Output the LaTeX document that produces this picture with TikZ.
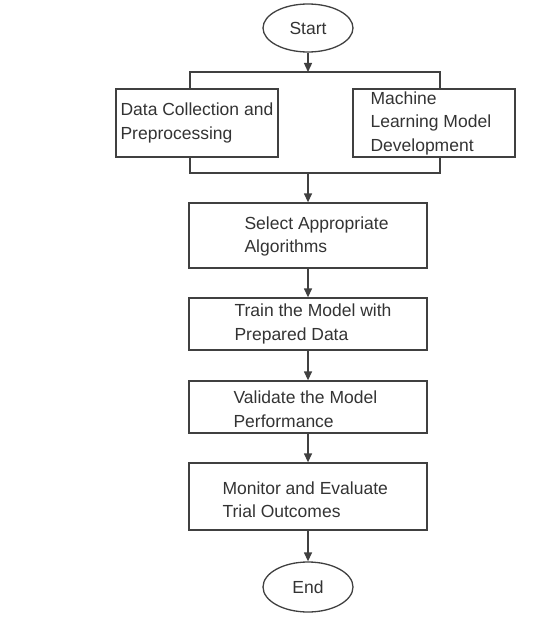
\documentclass[tikz,border=0pt]{standalone}
\usepackage{fontspec}
\setmainfont{Liberation Sans}
\usetikzlibrary{shapes.geometric,arrows.meta}
\tikzset{
  txt/.style={font=\fontsize{17.5}{23.5}\selectfont, text=black!80},
  term/.style={draw=black!75, line width=1.3pt, ellipse, minimum width=90, minimum height=48, inner sep=0pt, txt},
  box/.style={draw=black!75, line width=1.3pt, minimum width=238, minimum height=52, inner sep=0pt},
  boxtext/.style={anchor=west, align=left, inner sep=0pt, txt},
  link/.style={draw=black!75, line width=1.3pt},
  arr/.style={link, -{Triangle[width=8pt,length=9pt]}}
}
\begin{document}
\begin{tikzpicture}[x=1pt,y=-1pt]
  \useasboundingbox (0,0) rectangle (559,634);

  % Terminals
  \node[term] (start) at (308,28) {Start};
  \node[term, minimum height=50] (end) at (308,587) {End};

  % Parallel boxes
  \node[box, minimum width=162, minimum height=68,
        label={[boxtext, xshift=5]west:Data Collection and\\Preprocessing}] (dcp) at (197,123) {};
  \node[box, minimum width=162, minimum height=68,
        label={[boxtext, xshift=18]west:Machine\\Learning Model\\Development}] (mld) at (434,123) {};

  % Main steps
  \node[box, minimum height=65,
        label={[boxtext, xshift=56, yshift=-1]west:Select Appropriate\\Algorithms}] (select) at (308,235.5) {};
  \node[box,
        label={[boxtext, xshift=46]west:Train the Model with\\Prepared Data}] (train) at (308,324) {};
  \node[box,
        label={[boxtext, xshift=45, yshift=-2]west:Validate the Model\\Performance}] (validate) at (308,407) {};
  \node[box, minimum height=67,
        label={[boxtext, xshift=34, yshift=-3]west:Monitor and Evaluate\\Trial Outcomes}] (monitor) at (308,496.5) {};

  % Split and join bars
  \coordinate (split) at (308,72);
  \coordinate (join) at (308,173);
  \coordinate (tl) at (190,72);
  \coordinate (tr) at (440,72);
  \coordinate (bl) at (190,173);
  \coordinate (br) at (440,173);

  \draw[arr] (start) -- (split);
  \draw[link] (tl |- dcp.north) -- (tl) -- (tr) -- (tr |- mld.north);
  \draw[link] (bl |- dcp.south) -- (bl) -- (br) -- (br |- mld.south);
  \draw[arr] (join) -- (select);

  % Chain of steps
  \draw[arr] (select) -- (train);
  \draw[arr] (train) -- (validate);
  \draw[arr] (validate) -- (monitor);
  \draw[arr] (monitor) -- (end);
\end{tikzpicture}
\end{document}
